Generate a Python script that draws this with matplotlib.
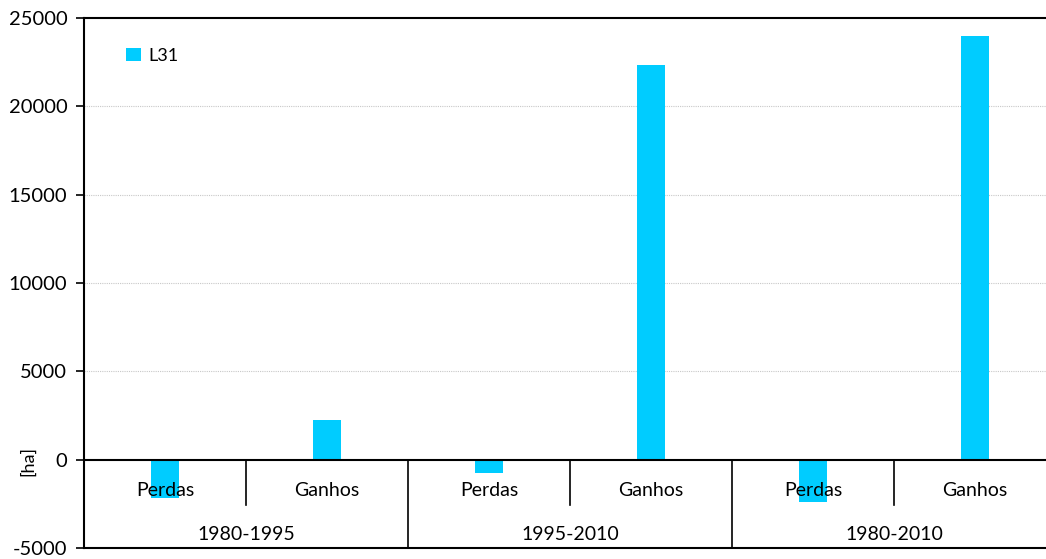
import matplotlib
matplotlib.use("Agg")
import matplotlib.pyplot as plt
import numpy as np

plt.rcParams['font.family'] = ['Lato', 'DejaVu Sans']

groups = ["1980-1995", "1995-2010", "1980-2010"]
subcats = ["Perdas", "Ganhos"]
values = [-2150, 2260, -740, 22340, -2370, 23980]
series_name = "L31"
bar_color = "#00CCFF"
yticks = [-5000, 0, 5000, 10000, 15000, 20000, 25000]

fig = plt.figure(figsize=(10.46, 5.59), dpi=100)
ax = fig.add_axes([84/1046, 1-548/559, (1056-84)/1046, (548-18)/559])

n = len(values)
x = np.arange(n)
ax.bar(x, values, width=0.167, color=bar_color, zorder=2, label=series_name)

ax.set_xlim(-0.5, n - 0.5)
ax.set_ylim(-5000, 25000)
ax.set_yticks(yticks)
ax.set_yticklabels([str(v) for v in yticks], fontsize=14.5)
ax.tick_params(axis='y', direction='out', length=6, width=1.2, pad=6)
ax.set_xticks([])

for v in yticks[2:-1]:
    ax.axhline(v, color='#c8c8c8', lw=0.8, ls=(0, (1, 1)), zorder=1)

ax.axhline(0, color='black', lw=1.5, zorder=3)
for s in ['left', 'top', 'bottom', 'right']:
    ax.spines[s].set_linewidth(1.5)
    ax.spines[s].set_color('black')

# category labels
for i in range(n):
    ax.text(x[i], -1750, subcats[i % 2], ha='center', va='center', fontsize=14, zorder=4)
for g in range(len(groups)):
    ax.text(2*g + 0.5, -4250, groups[g], ha='center', va='center', fontsize=14, zorder=4)
# separators
for g in range(len(groups)):
    ax.plot([2*g + 0.5, 2*g + 0.5], [0, -2550], color='black', lw=1.2, zorder=3)
for g in range(1, len(groups)):
    ax.plot([2*g - 0.5, 2*g - 0.5], [0, -5000], color='black', lw=1.2, zorder=3)

fig.text(28/1046, 1-461/559, "[ha]", rotation=90, ha='center', va='center', fontsize=13)

leg = ax.legend(loc='upper left', bbox_to_anchor=(0.027, 0.975), frameon=False,
                fontsize=13, handlelength=0.8, handleheight=0.8, handletextpad=0.4)

fig.savefig("out.png", dpi=100)
